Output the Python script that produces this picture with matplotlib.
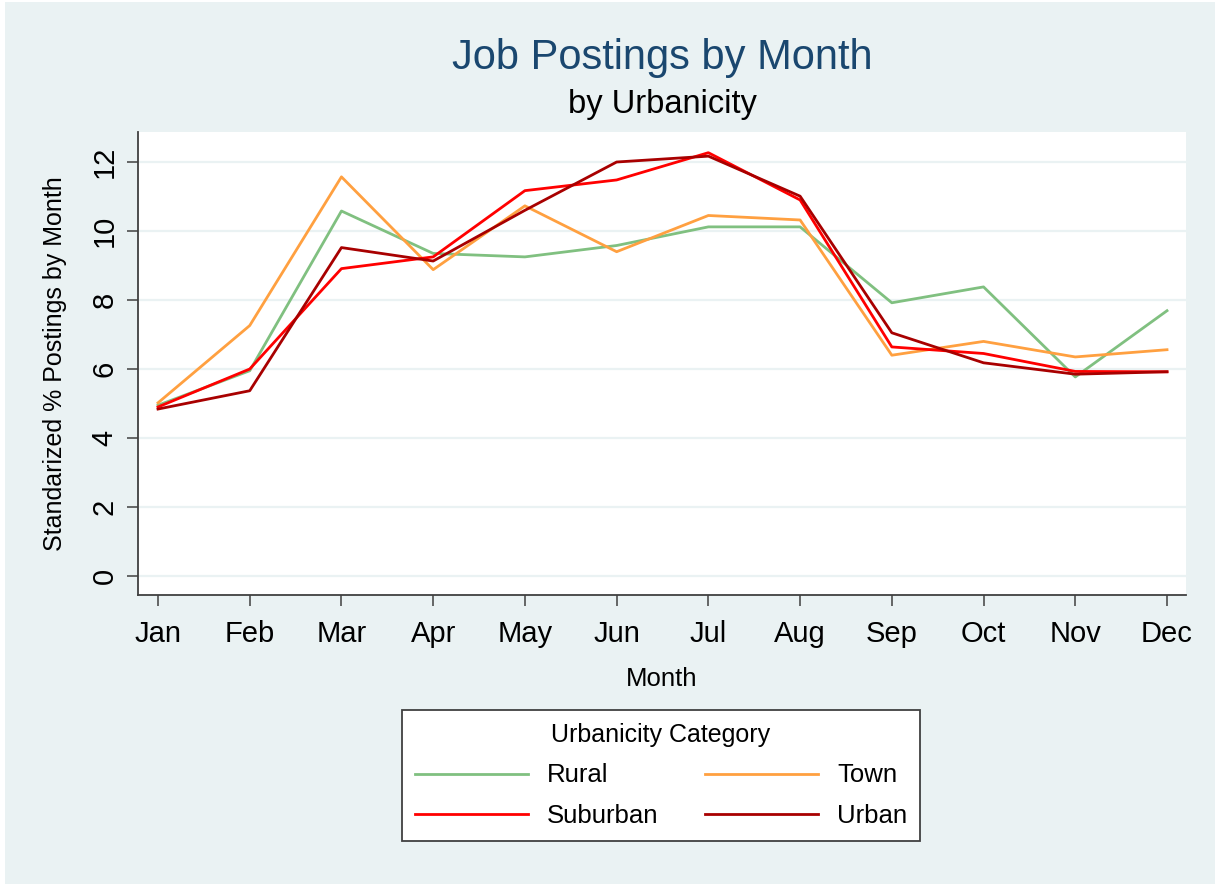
import matplotlib
matplotlib.use("Agg")
import matplotlib.pyplot as plt
import matplotlib.patches as patches

plt.rcParams['font.family'] = ['Liberation Sans', 'DejaVu Sans']

months = ["Jan", "Feb", "Mar", "Apr", "May", "Jun",
          "Jul", "Aug", "Sep", "Oct", "Nov", "Dec"]

rural    = [4.95, 5.95, 10.58, 9.35, 9.25, 9.58, 10.12, 10.12, 7.92, 8.38, 5.77, 7.69]
town     = [5.02, 7.26, 11.57, 8.88, 10.73, 9.40, 10.45, 10.32, 6.40, 6.80, 6.35, 6.56]
suburban = [4.90, 6.00, 8.91, 9.25, 11.17, 11.48, 12.27, 10.90, 6.64, 6.45, 5.93, 5.92]
urban    = [4.84, 5.37, 9.52, 9.13, 10.60, 12.00, 12.17, 11.01, 7.05, 6.18, 5.85, 5.92]

series = [("Rural", rural, "#80C080"),
          ("Town", town, "#FFA040"),
          ("Suburban", suburban, "#FF0000"),
          ("Urban", urban, "#A80000")]

bg = "#EAF2F3"
W, H = 1215, 884

fig = plt.figure(figsize=(W/100, H/100), dpi=100, facecolor="white")
fig.patches.append(patches.Rectangle((5/W, 0), 1 - 5/W, 1 - 2/H, transform=fig.transFigure,
                                     facecolor=bg, edgecolor="none", zorder=-10))

ax = fig.add_axes([138/W, 1 - 595/H, (1186 - 138)/W, (595 - 132)/H])
ax.set_facecolor("white")

x = list(range(len(months)))
handles = {}
for name, vals, col in series:
    h, = ax.plot(x, vals, color=col, lw=2.0, label=name, zorder=3)
    handles[name] = h

ax.set_xlim(-0.218, 11.207)
ax.set_ylim(-0.55, 12.87)
ax.set_xticks(x)
ax.set_xticklabels(months)
ax.set_yticks(range(0, 13, 2))
ax.grid(axis="y", color=bg, lw=1.6, zorder=0)
ax.set_axisbelow(True)

for s in ["top", "right"]:
    ax.spines[s].set_visible(False)
for s in ["left", "bottom"]:
    ax.spines[s].set_color("#404040")
    ax.spines[s].set_linewidth(1.3)

ax.tick_params(axis="x", length=8, width=1.1, color="#404040", labelsize=21, pad=10)
ax.tick_params(axis="y", length=8, width=1.1, color="#404040", labelsize=21, pad=6)
for lab in ax.get_yticklabels():
    lab.set_rotation(90)
    lab.set_va("center")

ax.set_xlabel("Month", fontsize=18.5, labelpad=14)
ax.set_ylabel("Standarized % Postings by Month", fontsize=18, labelpad=17)

fig.text(662/W, 1 - 58/H, "Job Postings by Month", fontsize=30, color="#1A476F",
         ha="center", va="center")
fig.text(662/W, 1 - 105/H, "by Urbanicity", fontsize=23.5, color="black",
         ha="center", va="center")

# matplotlib fills legend columns first, so order for rows Rural/Town, Suburban/Urban
order = ["Rural", "Suburban", "Town", "Urban"]
leg = fig.legend(handles=[handles[n] for n in order], ncol=2, loc="center",
                 bbox_to_anchor=(661/W, 1 - 775.5/H),
                 title="Urbanicity Category", title_fontsize=18, fontsize=18.5,
                 frameon=True, fancybox=False, framealpha=1, edgecolor="#404040",
                 handlelength=4.4, handletextpad=0.75, columnspacing=1.8,
                 labelspacing=0.65, borderpad=0.5)
leg.get_frame().set_linewidth(1.3)

fig.savefig("out.png", dpi=100, facecolor=fig.get_facecolor())
